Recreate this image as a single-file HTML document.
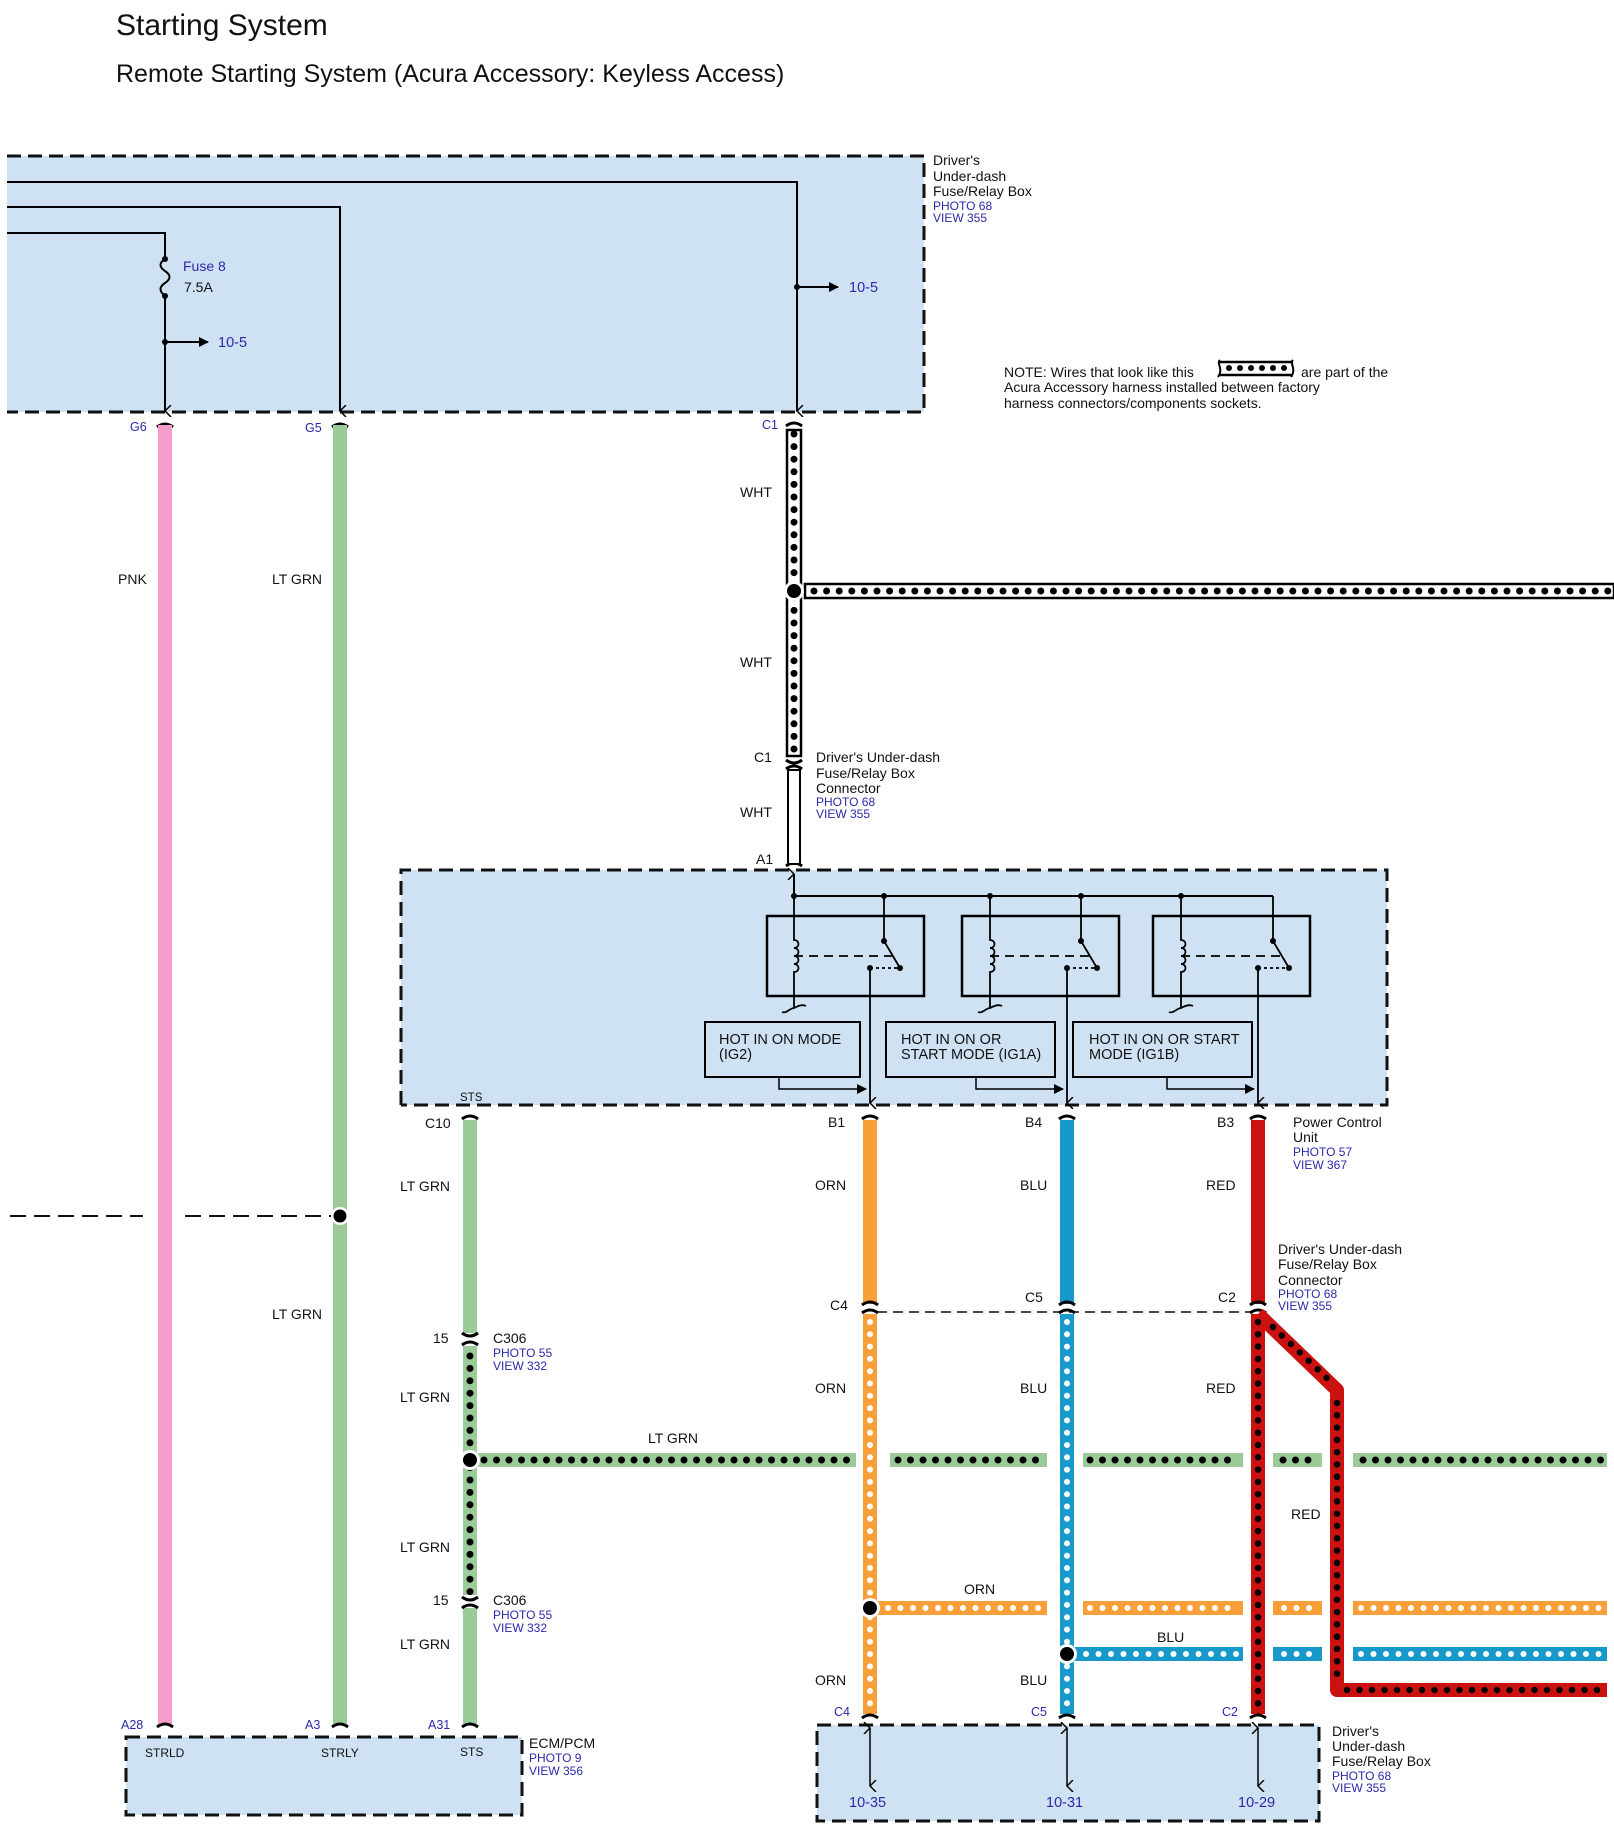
<!DOCTYPE html>
<html><head><meta charset="utf-8"><style>
html,body{margin:0;padding:0;background:#fff}
svg{display:block}
text{font-family:"Liberation Sans",Arial,sans-serif;font-size:14px;fill:#111}
.b{fill:#2a2aa8;font-size:12.5px}
.s{font-size:12px}
.l{font-size:14px}
</style></head><body>
<svg width="1614" height="1830" viewBox="0 0 1614 1830" xmlns="http://www.w3.org/2000/svg">
<defs>
<marker id="ah" markerWidth="10" markerHeight="10" refX="9" refY="5" orient="auto" markerUnits="userSpaceOnUse"><path d="M0,0 L10,5 L0,10 z" fill="#000"/></marker>
<marker id="av" markerWidth="12" markerHeight="12" refX="6" refY="11" orient="auto" markerUnits="userSpaceOnUse"><path d="M0,5 L6,11 L12,5" fill="none" stroke="#000" stroke-width="1.5"/></marker>
</defs>
<text x="116" y="35" style="font-size:30px">Starting System</text>
<text x="116" y="82" style="font-size:25px">Remote Starting System (Acura Accessory: Keyless Access)</text>

<!-- top box -->
<rect x="7" y="156" width="917" height="256" fill="#cfe2f4" stroke="none"/>
<path d="M7,156 H924 V412 H7" fill="none" stroke="#111" stroke-width="3" stroke-dasharray="14,7"/>
<g stroke="#000" stroke-width="2" fill="none">
<path d="M7,182 H797 V411" marker-end="url(#av)"/>
<path d="M7,207 H340 V411" marker-end="url(#av)"/>
<path d="M7,233 H165 V259 M165,296 V411" marker-end="url(#av)"/>
<path d="M165,259 c-6,4 -6,8 0,12 c6,4 6,8 0,12 c-6,4 -6,8 0,13"/>
<path d="M165,342 H208" marker-end="url(#ah)"/>
<path d="M797,287 H838" marker-end="url(#ah)"/>
</g>
<circle cx="165" cy="259" r="3"/><circle cx="165" cy="296" r="3"/><circle cx="165" cy="342" r="3"/><circle cx="797" cy="287" r="3"/>
<text x="183" y="271" class="b" style="font-size:14px">Fuse 8</text>
<text x="184" y="292" style="font-size:14px">7.5A</text>
<text x="218" y="347" class="b" style="font-size:14.5px">10-5</text>
<text x="849" y="292" class="b" style="font-size:14.5px">10-5</text>
<text x="933" y="165" class="l">Driver's</text>
<text x="933" y="181" class="l">Under-dash</text>
<text x="933" y="196" class="l">Fuse/Relay Box</text>
<text x="933" y="210" class="b s">PHOTO 68</text>
<text x="933" y="222" class="b s">VIEW 355</text>

<!-- NOTE -->
<text x="1004" y="377" style="font-size:14px">NOTE: Wires that look like this</text>
<g><path d="M1220,362 H1293 M1220,375 H1293" stroke="#000" stroke-width="2.5"/>
<path d="M1220,360 c-4,4 4,8 -2,17 M1293,360 c-4,4 4,8 -2,17" stroke="#000" stroke-width="2" fill="none"/>
<g fill="#000"><circle cx="1229" cy="368" r="3"/><circle cx="1240" cy="368" r="3"/><circle cx="1251" cy="368" r="3"/><circle cx="1262" cy="368" r="3"/><circle cx="1273" cy="368" r="3"/><circle cx="1284" cy="368" r="3"/></g></g>
<text x="1301" y="377" style="font-size:14px">are part of the</text>
<text x="1004" y="392" style="font-size:14px">Acura Accessory harness installed between factory</text>
<text x="1004" y="408" style="font-size:14px">harness connectors/components sockets.</text>

<g fill="none" stroke="#000" stroke-width="3">
<path d="M157,427 q8,-6 16,0"/><path d="M332,427 q8,-6 16,0"/><path d="M786,426 q8,-6 16,0"/>
</g>
<text x="130" y="431" class="b">G6</text>
<text x="305" y="432" class="b">G5</text>
<text x="762" y="429" class="b">C1</text>

<rect x="158" y="425" width="14" height="1300" fill="#f59ccc"/>
<rect x="333" y="425" width="14" height="1300" fill="#9acb98"/>
<text x="118" y="584">PNK</text>
<text x="272" y="584">LT GRN</text>
<text x="272" y="1319">LT GRN</text>
<path d="M10,1216 H143 M185,1216 H333" stroke="#111" stroke-width="2" stroke-dasharray="16,8"/>
<circle cx="340" cy="1216" r="9" fill="#fff"/><circle cx="340" cy="1216" r="6.5" fill="#000"/>

<!-- WHT harness -->
<g>
<rect x="787" y="430" width="14" height="326" fill="#fff" stroke="#000" stroke-width="2.5"/>
<path d="M794,434 V752" stroke="#000" stroke-width="7" stroke-linecap="round" stroke-dasharray="0,12.6"/>
<rect x="805" y="584" width="809" height="14" fill="#fff" stroke="#000" stroke-width="2.5"/>
<path d="M814,591 H1610" stroke="#000" stroke-width="7" stroke-linecap="round" stroke-dasharray="0,12.6"/>
<circle cx="794" cy="591" r="10" fill="#fff"/><circle cx="794" cy="591" r="7" fill="#000"/>
</g>
<text x="740" y="497">WHT</text>
<text x="740" y="667">WHT</text>
<text x="740" y="817">WHT</text>
<g fill="none" stroke="#000" stroke-width="3">
<path d="M786,760 q8,6 16,0"/><path d="M786,769 q8,-6 16,0"/><path d="M786,866 q8,-6 16,0"/>
</g>
<rect x="788" y="770" width="12" height="94" fill="#fff" stroke="#000" stroke-width="2"/>
<text x="754" y="762">C1</text>
<text x="756" y="864">A1</text>
<text x="816" y="762" class="l">Driver's Under-dash</text>
<text x="816" y="778" class="l">Fuse/Relay Box</text>
<text x="816" y="793" class="l">Connector</text>
<text x="816" y="806" class="b s">PHOTO 68</text>
<text x="816" y="818" class="b s">VIEW 355</text>

<!-- PCU box -->
<rect x="401" y="870" width="986" height="235" fill="#cfe2f4"/>
<path d="M401,1105 V870 H1387 V1105 H401" fill="none" stroke="#111" stroke-width="3" stroke-dasharray="14,7"/>
<g stroke="#000" stroke-width="2" fill="none">
<path d="M794,898 V874" marker-end="url(#av)"/>
<path d="M794,896 H1273"/>
<rect x="767" y="916" width="157" height="80" stroke-width="2.5"/>
<rect x="962" y="916" width="157" height="80" stroke-width="2.5"/>
<rect x="1153" y="916" width="157" height="80" stroke-width="2.5"/>
</g>
<g stroke="#000" stroke-width="1.8" fill="none">
<path d="M794,896 V940 c6,0 6,8 0,8 c6,0 6,8 0,8 c6,0 6,8 0,8 c6,0 6,8 0,8 V1008 c-4,0 -8,6 -12,4 M794,1008 c4,-2 8,-4 12,-2"/>
<path d="M794,956 H892" stroke-dasharray="9,6"/>
<path d="M884,896 V941 L900,968"/>
<path d="M870,968 H900" stroke-dasharray="3,3"/>
<path d="M870,968 V1103" marker-end="url(#av)"/>
<path d="M990,896 V940 c6,0 6,8 0,8 c6,0 6,8 0,8 c6,0 6,8 0,8 c6,0 6,8 0,8 V1008 c-4,0 -8,6 -12,4 M990,1008 c4,-2 8,-4 12,-2"/>
<path d="M990,956 H1089" stroke-dasharray="9,6"/>
<path d="M1081,896 V941 L1097,968"/>
<path d="M1067,968 H1097" stroke-dasharray="3,3"/>
<path d="M1067,968 V1103" marker-end="url(#av)"/>
<path d="M1181,896 V940 c6,0 6,8 0,8 c6,0 6,8 0,8 c6,0 6,8 0,8 c6,0 6,8 0,8 V1008 c-4,0 -8,6 -12,4 M1181,1008 c4,-2 8,-4 12,-2"/>
<path d="M1181,956 H1281" stroke-dasharray="9,6"/>
<path d="M1273,896 V941 L1289,968"/>
<path d="M1258,968 H1289" stroke-dasharray="3,3"/>
<path d="M1258,968 V1103" marker-end="url(#av)"/>
</g>
<g fill="#000">
<circle cx="794" cy="896" r="3"/><circle cx="884" cy="896" r="3"/><circle cx="990" cy="896" r="3"/><circle cx="1081" cy="896" r="3"/><circle cx="1181" cy="896" r="3"/>
<circle cx="884" cy="941" r="3"/><circle cx="1081" cy="941" r="3"/><circle cx="1273" cy="941" r="3"/>
<circle cx="870" cy="968" r="3"/><circle cx="900" cy="968" r="3"/><circle cx="1067" cy="968" r="3"/><circle cx="1097" cy="968" r="3"/><circle cx="1258" cy="968" r="3"/><circle cx="1289" cy="968" r="3"/>
</g>
<g stroke="#000" stroke-width="2" fill="none">
<rect x="705" y="1022" width="155" height="55"/>
<rect x="886" y="1022" width="169" height="55"/>
<rect x="1073" y="1022" width="179" height="55"/>
<path d="M779,1077 V1089 H866" marker-end="url(#ah)" stroke-width="1.5"/>
<path d="M976,1077 V1089 H1063" marker-end="url(#ah)" stroke-width="1.5"/>
<path d="M1167,1077 V1089 H1254" marker-end="url(#ah)" stroke-width="1.5"/>
</g>
<text x="719" y="1044" style="font-size:14.5px">HOT IN ON MODE</text><text x="719" y="1059" style="font-size:14.5px">(IG2)</text>
<text x="901" y="1044" style="font-size:14.5px">HOT IN ON OR</text><text x="901" y="1059" style="font-size:14.5px">START MODE (IG1A)</text>
<text x="1089" y="1044" style="font-size:14.5px">HOT IN ON OR START</text><text x="1089" y="1059" style="font-size:14.5px">MODE (IG1B)</text>
<text x="460" y="1101" style="font-size:11.5px">STS</text>

<g fill="none" stroke="#000" stroke-width="3">
<path d="M462,1119 q8,-6 16,0"/><path d="M862,1119 q8,-6 16,0"/><path d="M1059,1119 q8,-6 16,0"/><path d="M1250,1119 q8,-6 16,0"/>
</g>
<text x="425" y="1128">C10</text><text x="828" y="1127">B1</text><text x="1025" y="1127">B4</text><text x="1217" y="1127">B3</text>
<text x="1293" y="1127" class="l">Power Control</text>
<text x="1293" y="1142" class="l">Unit</text>
<text x="1293" y="1156" class="b s">PHOTO 57</text>
<text x="1293" y="1169" class="b s">VIEW 367</text>

<rect x="463" y="1120" width="14" height="213" fill="#9acb98"/>
<rect x="463" y="1346" width="14" height="249" fill="#9acb98"/>
<path d="M470,1356 V1592" stroke="#000" stroke-width="7" stroke-linecap="round" stroke-dasharray="0,12.4"/>
<rect x="463" y="1608" width="14" height="116" fill="#9acb98"/>
<g fill="none" stroke="#000" stroke-width="3">
<path d="M462,1333 q8,6 16,0"/><path d="M462,1345 q8,-6 16,0"/>
<path d="M462,1597 q8,6 16,0"/><path d="M462,1608 q8,-6 16,0"/>
<path d="M462,1727 q8,-6 16,0"/><path d="M157,1727 q8,-6 16,0"/><path d="M332,1727 q8,-6 16,0"/>
</g>
<text x="400" y="1191">LT GRN</text>
<text x="433" y="1343">15</text><text x="493" y="1343">C306</text>
<text x="493" y="1357" class="b s">PHOTO 55</text><text x="493" y="1370" class="b s">VIEW 332</text>
<text x="400" y="1402">LT GRN</text>
<text x="400" y="1552">LT GRN</text>
<text x="433" y="1605">15</text><text x="493" y="1605">C306</text>
<text x="493" y="1619" class="b s">PHOTO 55</text><text x="493" y="1632" class="b s">VIEW 332</text>
<text x="400" y="1649">LT GRN</text>

<rect x="863" y="1120" width="14" height="184" fill="#f7a03a"/>
<rect x="1060" y="1120" width="14" height="184" fill="#1899cc"/>
<rect x="1251" y="1120" width="14" height="184" fill="#cc1111"/>
<text x="815" y="1190">ORN</text><text x="1020" y="1190">BLU</text><text x="1206" y="1190">RED</text>
<path d="M877,1312 H1251" stroke="#111" stroke-width="1.5" stroke-dasharray="10,6"/>
<g fill="none" stroke="#000" stroke-width="3">
<path d="M862,1305 q8,-6 16,0"/><path d="M862,1313 q8,-6 16,0"/>
<path d="M1059,1305 q8,-6 16,0"/><path d="M1059,1313 q8,-6 16,0"/>
<path d="M1250,1305 q8,-6 16,0"/><path d="M1250,1313 q8,-6 16,0"/>
</g>
<text x="830" y="1310">C4</text><text x="1025" y="1302">C5</text><text x="1218" y="1302">C2</text>
<text x="1278" y="1254" class="l">Driver's Under-dash</text>
<text x="1278" y="1269" class="l">Fuse/Relay Box</text>
<text x="1278" y="1285" class="l">Connector</text>
<text x="1278" y="1298" class="b s">PHOTO 68</text>
<text x="1278" y="1310" class="b s">VIEW 355</text>

<g stroke="#9acb98" stroke-width="14">
<path d="M477,1460 H856 M890,1460 H1047 M1083,1460 H1243 M1273,1460 H1322 M1353,1460 H1607"/>
</g>
<path d="M484,1460 H852 M898,1460 H1043 M1090,1460 H1240 M1283,1460 H1320 M1363,1460 H1607" stroke="#000" stroke-width="7" stroke-linecap="round" stroke-dasharray="0,12.5"/>
<g stroke="#f7a03a" stroke-width="14">
<path d="M877,1608 H1047 M1083,1608 H1243 M1273,1608 H1322 M1353,1608 H1607"/>
</g>
<path d="M888,1608 H1043 M1090,1608 H1240 M1284,1608 H1320 M1361,1608 H1607" stroke="#fff" stroke-width="6" stroke-linecap="round" stroke-dasharray="0,12.5"/>
<g stroke="#1899cc" stroke-width="14">
<path d="M1074,1654 H1243 M1273,1654 H1322 M1353,1654 H1607"/>
</g>
<path d="M1086,1654 H1240 M1284,1654 H1320 M1361,1654 H1607" stroke="#fff" stroke-width="6" stroke-linecap="round" stroke-dasharray="0,12.5"/>
<text x="648" y="1443">LT GRN</text>
<text x="964" y="1594">ORN</text>
<text x="1157" y="1642">BLU</text>

<rect x="863" y="1314" width="14" height="400" fill="#f7a03a"/>
<path d="M870,1322 V1710" stroke="#fff" stroke-width="6" stroke-linecap="round" stroke-dasharray="0,12.3"/>
<rect x="1060" y="1314" width="14" height="400" fill="#1899cc"/>
<path d="M1067,1322 V1710" stroke="#fff" stroke-width="6" stroke-linecap="round" stroke-dasharray="0,12.3"/>
<path d="M1258,1314 L1337,1390 V1690 H1607" fill="none" stroke="#cc1111" stroke-width="14" stroke-linejoin="round"/>
<rect x="1251" y="1314" width="14" height="400" fill="#cc1111"/>
<path d="M1258,1322 V1710" stroke="#000" stroke-width="6.5" stroke-linecap="round" stroke-dasharray="0,12.3"/>
<path d="M1273,1327 L1330,1381" stroke="#000" stroke-width="6.5" stroke-linecap="round" stroke-dasharray="0,12.3"/>
<path d="M1337,1403 V1680" stroke="#000" stroke-width="6.5" stroke-linecap="round" stroke-dasharray="0,12.3"/>
<path d="M1347,1690 H1607" stroke="#000" stroke-width="6.5" stroke-linecap="round" stroke-dasharray="0,12.5"/>
<circle cx="470" cy="1460" r="10" fill="#fff"/><circle cx="470" cy="1460" r="7" fill="#000"/>
<circle cx="870" cy="1608" r="10" fill="#fff"/><circle cx="870" cy="1608" r="7" fill="#000"/>
<circle cx="1067" cy="1654" r="10" fill="#fff"/><circle cx="1067" cy="1654" r="7" fill="#000"/>
<text x="815" y="1393">ORN</text><text x="1020" y="1393">BLU</text><text x="1206" y="1393">RED</text>
<text x="1291" y="1519">RED</text>
<text x="815" y="1685">ORN</text><text x="1020" y="1685">BLU</text>

<rect x="126" y="1737" width="396" height="78" fill="#cfe2f4"/>
<path d="M126,1737 H522 V1815 H126 Z" fill="none" stroke="#111" stroke-width="3" stroke-dasharray="14,7"/>
<text x="121" y="1729" class="b">A28</text><text x="305" y="1729" class="b">A3</text><text x="428" y="1729" class="b">A31</text>
<text x="145" y="1757" class="s">STRLD</text><text x="321" y="1757" class="s">STRLY</text><text x="460" y="1756" class="s">STS</text>
<text x="529" y="1748" class="l">ECM/PCM</text>
<text x="529" y="1762" class="b s">PHOTO 9</text><text x="529" y="1775" class="b s">VIEW 356</text>

<rect x="817" y="1725" width="502" height="96" fill="#cfe2f4"/>
<path d="M817,1725 H1319 V1821 H817 Z" fill="none" stroke="#111" stroke-width="3" stroke-dasharray="14,7"/>
<g fill="none" stroke="#000" stroke-width="3">
<path d="M862,1718 q8,-6 16,0"/><path d="M1059,1718 q8,-6 16,0"/><path d="M1250,1718 q8,-6 16,0"/>
</g>
<text x="834" y="1716" class="b">C4</text><text x="1031" y="1716" class="b">C5</text><text x="1222" y="1716" class="b">C2</text>
<g stroke="#000" stroke-width="1.5" fill="none">
<path d="M870,1755 V1786" marker-end="url(#av)"/><path d="M870,1755 V1728" marker-end="url(#av)"/>
<path d="M1067,1755 V1786" marker-end="url(#av)"/><path d="M1067,1755 V1728" marker-end="url(#av)"/>
<path d="M1258,1755 V1786" marker-end="url(#av)"/><path d="M1258,1755 V1728" marker-end="url(#av)"/>
</g>
<text x="849" y="1807" class="b" style="font-size:14.5px">10-35</text>
<text x="1046" y="1807" class="b" style="font-size:14.5px">10-31</text>
<text x="1238" y="1807" class="b" style="font-size:14.5px">10-29</text>
<text x="1332" y="1736" class="l">Driver's</text>
<text x="1332" y="1751" class="l">Under-dash</text>
<text x="1332" y="1766" class="l">Fuse/Relay Box</text>
<text x="1332" y="1780" class="b s">PHOTO 68</text>
<text x="1332" y="1792" class="b s">VIEW 355</text>
</svg>
</body></html>
